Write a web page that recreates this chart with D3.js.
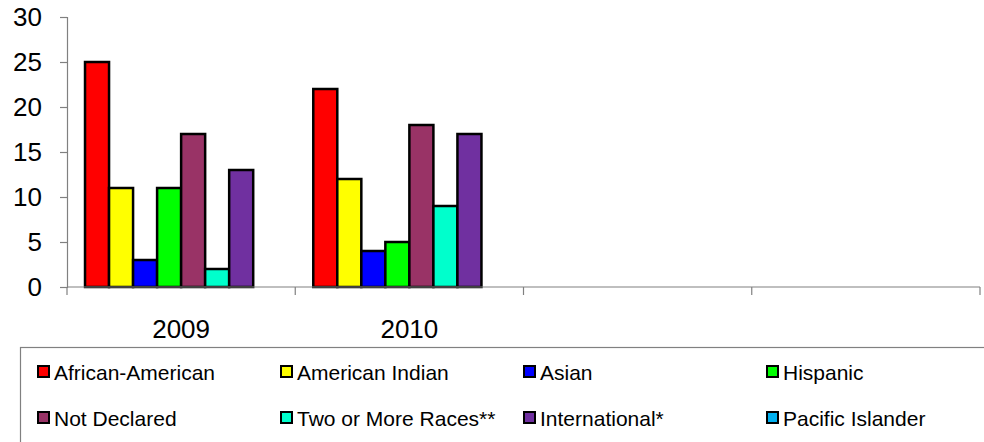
<!DOCTYPE html>
<html><head><meta charset="utf-8">
<script src="https://cdn.jsdelivr.net/npm/d3@7"></script>
<style>body{margin:0;background:#fff}svg{display:block;font-family:Arial,"Liberation Sans",sans-serif}</style>
</head><body>
<svg id="c" width="984" height="442"></svg>
<script>
const categories = ["2009", "2010", "", ""];
const seriesNames = ["African-American", "American Indian", "Asian", "Hispanic", "Not Declared", "Two or More Races**", "International*", "Pacific Islander"];
const seriesColors = ["#FF0000", "#FFFF00", "#0000FF", "#00FF00", "#993366", "#00FFCC", "#7030A0", "#00B0F0"];
const africanAmerican = [25, 22, null, null];
const americanIndian = [11, 12, null, null];
const asian = [3, 4, null, null];
const hispanic = [11, 5, null, null];
const notDeclared = [17, 18, null, null];
const twoOrMore = [2, 9, null, null];
const international = [13, 17, null, null];
const pacificIslander = [null, null, null, null];
const yTicks = [0, 5, 10, 15, 20, 25, 30];

const seriesValues = [africanAmerican, americanIndian, asian, hispanic, notDeclared, twoOrMore, international, pacificIslander];

const svg = d3.select("#c");
const mLeft = 67, mRight = 980, mTop = 17, mBottom = 287;

const x0 = d3.scaleBand().domain(d3.range(categories.length)).range([mLeft, mRight]).padding(0);
const x1 = d3.scaleBand().domain(d3.range(seriesNames.length)).range([0, x0.bandwidth()]).paddingInner(0).paddingOuter(0.75);
const y = d3.scaleLinear().domain([0, 30]).range([mBottom, mTop]);

// y axis
const yAxis = svg.append("g").attr("transform", `translate(${mLeft},0)`)
  .call(d3.axisLeft(y).tickValues(yTicks).tickSize(7).tickPadding(18));
yAxis.select(".domain").attr("stroke", "#808080").attr("stroke-width", 1.2);
yAxis.selectAll(".tick line").attr("stroke", "#808080").attr("stroke-width", 1.2);
yAxis.selectAll(".tick text").attr("font-size", "26px").attr("fill", "#000").attr("font-family", "Arial, 'Liberation Sans', sans-serif");

// bars
seriesValues.forEach((vals, si) => {
  svg.append("g").selectAll("rect")
    .data(vals.map((v, ci) => ({v, ci})).filter(d => d.v != null))
    .join("rect")
    .attr("x", d => x0(d.ci) + x1(si))
    .attr("width", x1.bandwidth())
    .attr("y", d => y(d.v))
    .attr("height", d => y(0) - y(d.v))
    .attr("fill", seriesColors[si])
    .attr("stroke", "#000")
    .attr("stroke-width", 2.5);
});

// x axis
const xg = svg.append("g");
xg.append("line").attr("x1", mLeft).attr("x2", mRight).attr("y1", y(0)).attr("y2", y(0)).attr("stroke", "#808080").attr("stroke-width", 1.2);
const boundaries = d3.range(categories.length + 1).map(i => i < categories.length ? x0(i) : x0(categories.length - 1) + x0.bandwidth());
xg.selectAll("line.tk").data(boundaries).join("line").attr("class", "tk")
  .attr("x1", d => d).attr("x2", d => d).attr("y1", y(0)).attr("y2", y(0) + 8)
  .attr("stroke", "#808080").attr("stroke-width", 1.2);
xg.selectAll("text").data(categories).join("text")
  .attr("x", (d, i) => x0(i) + x0.bandwidth() / 2)
  .attr("y", 329)
  .attr("text-anchor", "middle").attr("dominant-baseline", "central")
  .attr("font-size", "26px").attr("fill", "#000")
  .text(d => d);

// legend
svg.append("rect").attr("x", 20.5).attr("y", 347.5).attr("width", 1000).attr("height", 200)
  .attr("fill", "none").attr("stroke", "#808080").attr("stroke-width", 1.2);
const colX = [37, 280, 523, 766];
const rowY = [372, 418];
const lg = svg.append("g").selectAll("g").data(seriesNames).join("g")
  .attr("transform", (d, i) => `translate(${colX[i % 4]},${rowY[Math.floor(i / 4)]})`);
lg.append("rect").attr("x", 1).attr("y", -6).attr("width", 11).attr("height", 11)
  .attr("fill", (d, i) => seriesColors[i]).attr("stroke", "#000").attr("stroke-width", 2);
lg.append("text").attr("x", 17).attr("y", 0).attr("dominant-baseline", "central")
  .attr("font-size", "21px").attr("fill", "#000").text(d => d);
</script>
</body></html>
